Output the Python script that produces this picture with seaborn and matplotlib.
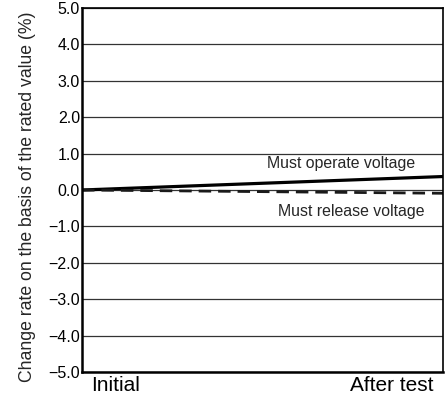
import numpy as np
import matplotlib
matplotlib.use("Agg")
import matplotlib.pyplot as plt
import seaborn as sns
import pandas as pd

# data
stages = ["Initial", "After test"]
stage_pos = [0.0, 1.0]
operate = [0.0, 0.37]
release = [0.0, -0.09]
y_ticks = [-5.0, -4.0, -3.0, -2.0, -1.0, 0.0, 1.0, 2.0, 3.0, 4.0, 5.0]

df = pd.DataFrame({
    "x": stage_pos * 2,
    "value": operate + release,
    "series": ["Must operate voltage"] * 2 + ["Must release voltage"] * 2,
})

sns.set_theme(style="white")
plt.rcParams["font.family"] = ["Liberation Sans", "DejaVu Sans"]

fig = plt.figure(figsize=(4.45, 4.04), dpi=100)
ax = fig.add_axes([82 / 445, 1 - 372 / 404, (443 - 82) / 445, (372 - 8) / 404])

for y in y_ticks:
    ax.axhline(y, color="#333333", linewidth=0.9, zorder=1)

sns.lineplot(data=df, x="x", y="value", hue="series", style="series",
             palette=["black", "#1a1a1a"], dashes=[(None, None), (4.5, 2.5)],
             linewidth=2.3, legend=False, ax=ax, zorder=3)
ax.lines[-1].set_linewidth(2.0)

ax.set_xlim(0, 1)
ax.set_ylim(-5, 5)
ax.set_yticks(y_ticks)
ax.set_yticklabels([f"{v:.1f}".replace("-", "\u2212") for v in y_ticks], fontsize=11.5)
ax.set_xticks([(115.5 - 82) / 361, (392 - 82) / 361])
ax.set_xticklabels(stages, fontsize=15)
ax.tick_params(axis="both", length=0, pad=1.5, colors="black")
ax.tick_params(axis="x", pad=3)
ax.set_xlabel("")
ax.set_ylabel("Change rate on the basis of the rated value (%)", fontsize=12.7)
ax.yaxis.set_label_coords(-0.127, 0.482)

for side in ["left", "bottom"]:
    ax.spines[side].set_linewidth(1.8)
for side in ["top", "right"]:
    ax.spines[side].set_linewidth(1.2)
for s in ax.spines.values():
    s.set_color("black")
    s.set_zorder(5)

ax.text(0.922, 0.74, "Must operate voltage", fontsize=11.4, ha="right", va="center")
ax.text(0.950, -0.58, "Must release voltage", fontsize=11.4, ha="right", va="center")

fig.savefig("out.png", dpi=100)
